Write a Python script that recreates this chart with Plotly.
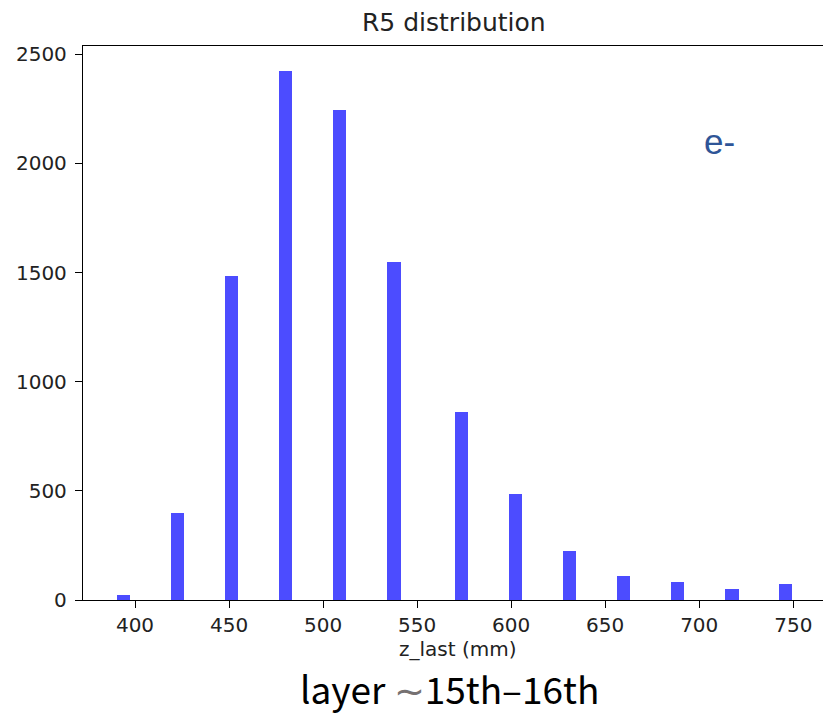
import plotly.graph_objects as go

# Data (bin centers in mm, counts)
bin_centers = [393.8, 422.6, 451.3, 480.0, 508.8, 537.6, 573.5, 602.3, 631.0, 659.8, 688.5, 717.3, 746.0]
counts = [23, 397, 1484, 2423, 2245, 1550, 863, 484, 224, 111, 84, 50, 72]
bin_width = 7.15

x_ticks = [400, 450, 500, 550, 600, 650, 700, 750]
y_ticks = [0, 500, 1000, 1500, 2000, 2500]

title_text = "R5 distribution"
xlabel_text = "z_last (mm)"
particle_text = "e-"

W, H = 823, 716
L, R, T, B = 83, 0, 46, 116
pw, ph = W - L - R, H - T - B

def px_x(p):
    return (p - L) / pw

def px_y(p):
    return (H - B - p) / ph

fig = go.Figure()
fig.add_trace(go.Bar(
    x=bin_centers, y=counts, width=[bin_width] * len(counts),
    marker=dict(color="rgba(0,0,255,0.7)", line=dict(width=0)),
    showlegend=False,
))

axis_font = dict(family="DejaVu Sans", size=20, color="#222222")

fig.update_layout(
    width=W, height=H,
    margin=dict(l=L, r=R, t=T, b=B, pad=0),
    paper_bgcolor="white", plot_bgcolor="white",
    bargap=0,
    xaxis=dict(
        range=[372.35, 765.8], tickmode="array", tickvals=x_ticks,
        ticktext=[str(v) for v in x_ticks],
        showgrid=False, zeroline=False,
        showline=True, mirror=True, linecolor="black", linewidth=1.3,
        ticks="outside", ticklen=7, tickwidth=1.3, tickcolor="black",
        tickfont=axis_font,
    ),
    yaxis=dict(
        range=[0, 2538], tickmode="array", tickvals=y_ticks,
        ticktext=[str(v) for v in y_ticks],
        showgrid=False, zeroline=False,
        showline=True, mirror=False, linecolor="black", linewidth=1.3,
        ticks="outside", ticklen=7, tickwidth=1.3, tickcolor="black",
        tickfont=axis_font, ticklabelstandoff=4,
    ),
    annotations=[
        dict(text=title_text, xref="paper", yref="paper", x=px_x(454), y=px_y(22),
             xanchor="center", yanchor="middle", showarrow=False,
             font=dict(family="DejaVu Sans", size=25, color="#222222")),
        dict(text=xlabel_text, xref="paper", yref="paper", x=px_x(457.5), y=px_y(649),
             xanchor="center", yanchor="middle", showarrow=False,
             font=dict(family="DejaVu Sans", size=20, color="#222222")),
        dict(text=particle_text, xref="paper", yref="paper", x=px_x(719), y=px_y(141),
             xanchor="center", yanchor="middle", showarrow=False,
             font=dict(family="Liberation Sans", size=35, color="#2F5597")),
        dict(text="layer <span style='color:#767171'>∼</span>15th–16th",
             xref="paper", yref="paper", x=px_x(449), y=px_y(688),
             xanchor="center", yanchor="middle", showarrow=False,
             font=dict(family="Noto Sans CJK JP", size=37, color="black")),
    ],
)

fig.write_html("out.html")
